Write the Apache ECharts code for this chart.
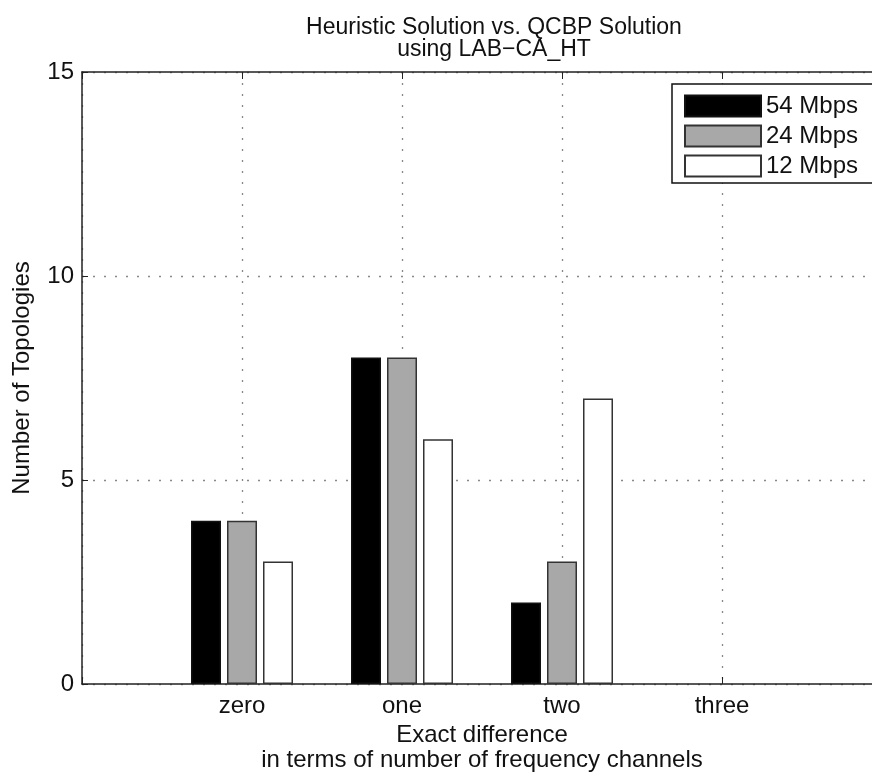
<!DOCTYPE html>
<html lang="en">
<head>
    <meta charset="UTF-8">
    <title>Heuristic vs QCBP</title>
    <script src="https://cdn.jsdelivr.net/npm/echarts@6/dist/echarts.min.js"></script>
    <style type="text/css">
        *{ margin: 0; padding: 0; }
        body{ background: #fff; }
        #chart{ width: 872px; height: 773px; }
    </style>
</head>
<body>
    <div id="chart"></div>
</body>
<script>
    // data
    var categories = ['zero', 'one', 'two', 'three'];
    var rate54 = [4, 8, 2, 0];
    var rate24 = [4, 8, 3, 0];
    var rate12 = [3, 6, 7, 0];
    var yTicks = [0, 5, 10, 15];

    var font = 'Liberation Sans, Arial, sans-serif';

    // categories sit at x = 1..4 on a 0..5 axis (like matlab); zero-height bars are not drawn
    function pairs(arr){
        var out = [];
        for (var i = 0; i < arr.length; i++) {
            if (arr[i] > 0) out.push([i + 1, arr[i]]);
        }
        return out;
    }

    function barSeries(name, arr, fill, edge){
        return {
            name: name,
            type: 'bar',
            xAxisIndex: 0,
            yAxisIndex: 0,
            barWidth: 30,
            barGap: '20%',
            data: pairs(arr),
            itemStyle: { color: fill, borderColor: edge, borderWidth: 1.5 }
        };
    }

    var dotted = { color: '#888', type: [2, 9], width: 1.3 };

    var myChart = echarts.init(document.getElementById('chart'));
    var option = {
        backgroundColor: '#fff',
        animation: false,
        title: {
            text: 'Heuristic Solution vs. QCBP Solution\nusing LAB\u2212CA_HT',
            left: 494,
            top: 17,
            textAlign: 'center',
            padding: 0,
            textStyle: { fontFamily: font, fontSize: 23, fontWeight: 'normal', color: '#111', lineHeight: 22 }
        },
        legend: {
            orient: 'vertical',
            left: 672,
            top: 84,
            itemWidth: 76,
            itemHeight: 21,
            itemGap: 6,
            padding: [10, 40, 5, 12],
            borderColor: '#111',
            borderWidth: 1.5,
            backgroundColor: '#fff',
            icon: 'rect',
            textStyle: { fontFamily: font, fontSize: 24, color: '#111', lineHeight: 21 },
            data: ['54 Mbps', '24 Mbps', '12 Mbps']
        },
        grid: { left: 82, top: 72, right: -10, bottom: 89, outerBoundsMode: 'none', containLabel: false },
        xAxis: [{
            type: 'value',
            min: 0,
            max: 5,
            interval: 1,
            position: 'bottom',
            name: 'Exact difference\nin terms of number of frequency channels',
            nameLocation: 'middle',
            nameGap: 38,
            nameTextStyle: { fontFamily: font, fontSize: 24, color: '#111', lineHeight: 25 },
            axisLine: { lineStyle: { color: '#222', width: 1.5 } },
            axisTick: { inside: true, length: 7, lineStyle: { color: '#222' } },
            axisLabel: {
                margin: 10,
                fontFamily: font, fontSize: 24, color: '#111',
                formatter: function (v) { return categories[v - 1] || ''; }
            },
            splitLine: { show: true, lineStyle: dotted }
        }, {
            type: 'value',
            min: 0,
            max: 5,
            interval: 1,
            position: 'top',
            axisLine: { show: true, lineStyle: { color: '#222', width: 1.5 } },
            axisTick: { show: true, inside: true, length: 7, lineStyle: { color: '#222' } },
            axisLabel: { show: false },
            splitLine: { show: false }
        }],
        yAxis: [{
            type: 'value',
            min: 0,
            max: 15,
            interval: 5,
            name: 'Number of Topologies',
            nameLocation: 'middle',
            nameGap: 48,
            nameTextStyle: { fontFamily: font, fontSize: 24, color: '#111' },
            axisLine: { show: true, lineStyle: { color: '#222', width: 1.5 } },
            axisTick: { show: true, inside: true, length: 6, lineStyle: { color: '#222' } },
            axisLabel: {
                margin: 8,
                fontFamily: font, fontSize: 24, color: '#111',
                formatter: function (v) { return yTicks.indexOf(v) >= 0 ? String(v) : ''; }
            },
            splitLine: { show: true, lineStyle: dotted }
        }],
        series: [
            barSeries('54 Mbps', rate54, '#000000', '#111'),
            barSeries('24 Mbps', rate24, '#a8a8a8', '#333'),
            barSeries('12 Mbps', rate12, '#ffffff', '#333')
        ]
    };
    myChart.setOption(option);
</script>
</html>
